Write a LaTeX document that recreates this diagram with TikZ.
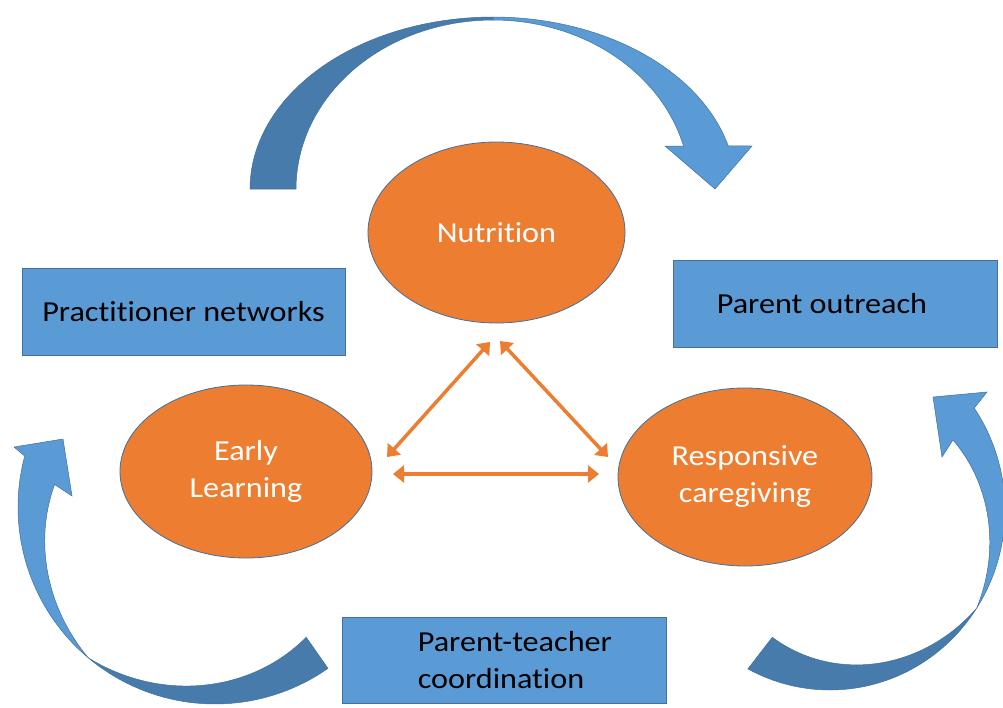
\documentclass[tikz,border=0pt]{standalone}
\usepackage{fontspec}
\setmainfont{Carlito}[Ligatures=NoCommon,FakeStretch=1.11]
\usepackage{tikz}
\usetikzlibrary{arrows.meta,shapes.geometric}

\definecolor{careorange}{HTML}{ED7D31}
\definecolor{boxblue}{HTML}{5B9BD5}
\definecolor{shadeblue}{HTML}{477BAC}
\definecolor{rimblue}{HTML}{41719C}

\begin{document}
\begin{tikzpicture}[x=1pt,y=-1pt,
    careitem/.style={ellipse,draw=rimblue,line width=0.8pt,fill=careorange,
      text=white,inner sep=0pt,align=center,font=\fontsize{29}{37}\selectfont},
    actbox/.style={rectangle,draw=rimblue,line width=0.8pt,fill=boxblue,
      inner sep=0pt,align=left,font=\fontsize{29}{37}\selectfont},
    boxtext/.style={inner sep=0pt,align=left,font=\fontsize{29}{37}\selectfont},
    loop/.style={draw=rimblue,line width=0.5pt}]
	\useasboundingbox (0,0) rectangle (1003,707);
	\clip (0,0) rectangle (1003,707);

	% cycle arrows round the outside
	\begin{scope}[samples=40]
	    % top, from practitioner networks to parent outreach
	    \filldraw[loop,fill=shadeblue] plot[domain=180:90] ({493+243*cos(\x)},{189-172*sin(\x)})
	        -- plot[domain=90:180] ({493+197*cos(\x)},{189-169*sin(\x)}) -- cycle;
	    \filldraw[loop,fill=boxblue] plot[domain=90:14.5] ({493+243*cos(\x)},{189-172*sin(\x)})
	        -- (752,146) -- (715,189) -- (665,146)
	        -- plot[domain=14.7:90] ({493+197*cos(\x)},{189-169*sin(\x)}) -- cycle;
	    % left, from parent-teacher coordination up to practitioner networks
	    \filldraw[loop,fill=boxblue] plot[domain=230:165] ({215+197*cos(\x)},{507-197*sin(\x)})
	        -- (14,447) -- (63,439) -- (72,496)
	        -- plot[domain=172:230] ({215+(162+35*(\x-172)/58)*cos(\x)},{507-(162+35*(\x-172)/58)*sin(\x)}) -- cycle;
	    \filldraw[loop,fill=shadeblue] plot[domain=230:305] ({215+197*cos(\x)},{507-197*sin(\x)})
	        -- plot[domain=305:230] ({215+(197-38*(\x-230)/75)*cos(\x)},{507-(197-38*(\x-230)/75)*sin(\x)}) -- cycle;
	    % right, from parent-teacher coordination up to parent outreach
	    \filldraw[loop,fill=boxblue] plot[domain=-33:34.5] ({830+175*cos(\x)},{510-180*sin(\x)})
	        -- (987,392) -- (933,397) -- (942,457)
	        -- plot[domain=29:-33] ({830+175*(0.803+0.197*(29-\x)/62)*cos(\x)},{510-180*(0.803+0.197*(29-\x)/62)*sin(\x)}) -- cycle;
	    \filldraw[loop,fill=shadeblue] plot[domain=-33:-118] ({830+175*cos(\x)},{510-180*sin(\x)})
	        -- plot[domain=-115:-33] ({830+175*(0.78+0.22*(\x+115)/82)*cos(\x)},{510-180*(0.78+0.22*(\x+115)/82)*sin(\x)}) -- cycle;
	\end{scope}

	% the three care areas
	\node[careitem,minimum width=257pt,minimum height=181pt] (nutrition) at (496.5,232.5) {Nutrition};
	\node[careitem,minimum width=252pt,minimum height=173pt] (early) at (246,471.5) {Early\\Learning};
	\node[careitem,minimum width=254pt,minimum height=178pt] (respcare) at (745,477) {Responsive\\caregiving};

	% the three activities
	\node[actbox,minimum width=323pt,minimum height=87pt] (practnet) at (183.5,311.5) {Practitioner networks};
	\node[actbox,minimum width=324pt,minimum height=87pt,
	      label={[boxtext,anchor=west,xshift=44pt]west:Parent outreach}] (outreach) at (835,303.5) {};
	\node[actbox,minimum width=324pt,minimum height=86pt,
	      label={[boxtext,anchor=west,xshift=76pt]west:{Parent-teacher\\coordination}}] (ptcoord) at (504,660) {};

	\coordinate (nut-l) at (490,342);
	\coordinate (nut-r) at (500,341);
	\coordinate (early-t) at (387,457);
	\coordinate (early-r) at (393,474);
	\coordinate (resp-t) at (608,457);
	\coordinate (resp-l) at (599,474);

	\begin{scope}[>={Triangle[length=11pt,width=17pt]},
	              every path/.style={draw=careorange,line width=3.5pt}]
	    \draw[<->] (nut-l) -- (early-t);
	    \draw[<->] (nut-r) -- (resp-t);
	    \draw[<->] (early-r) -- (resp-l);
	\end{scope}
\end{tikzpicture}
\end{document}
